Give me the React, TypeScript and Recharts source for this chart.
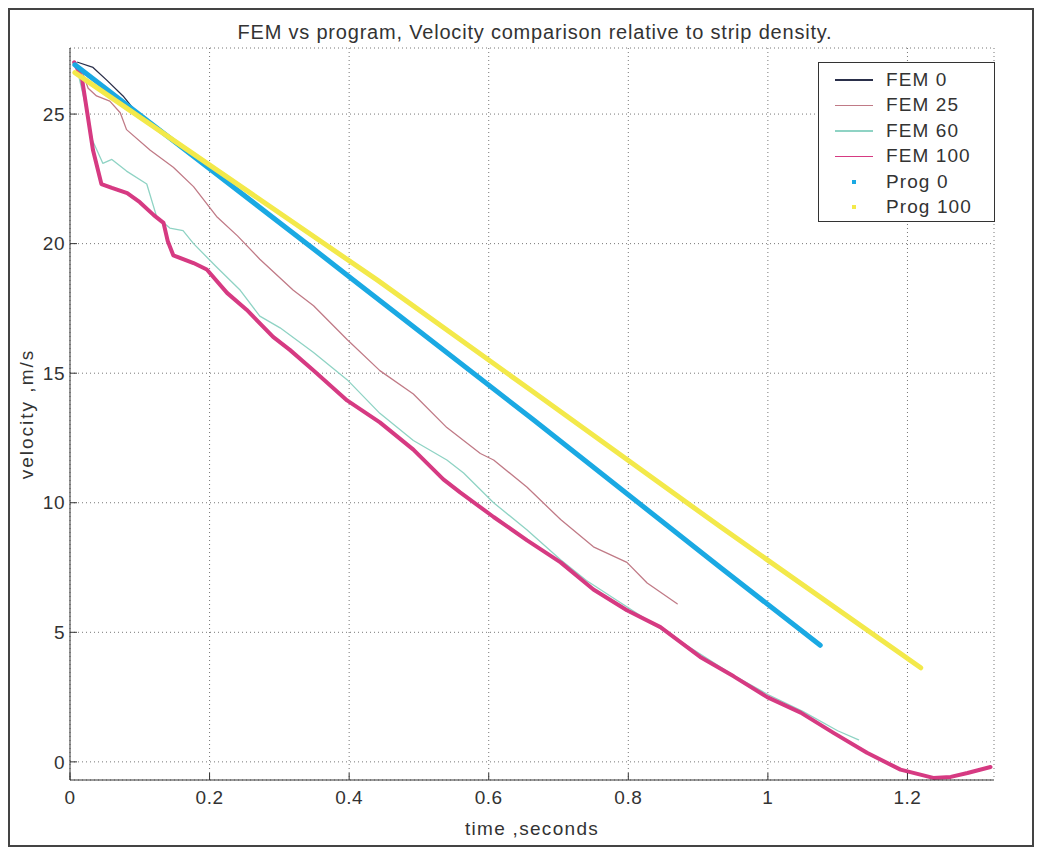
import React from 'react';
import { LineChart, Line, XAxis, YAxis, CartesianGrid, Label } from 'recharts';

// time (s) and velocity (m/s)
const fem0Time = [0.011, 0.033, 0.053, 0.076, 0.097];
const fem0Vel = [27.0, 26.8, 26.3, 25.7, 25.0];

const fem25Time = [0.008, 0.018, 0.026, 0.038, 0.057, 0.072, 0.081, 0.115, 0.148, 0.177, 0.21, 0.24, 0.272, 0.32, 0.349, 0.397, 0.444, 0.492, 0.54, 0.588, 0.607, 0.655, 0.703, 0.75, 0.798, 0.827, 0.87];
const fem25Vel = [27.0, 26.6, 26.0, 25.7, 25.5, 25.05, 24.4, 23.6, 22.95, 22.2, 21.05, 20.3, 19.4, 18.2, 17.6, 16.3, 15.1, 14.2, 12.9, 11.9, 11.65, 10.6, 9.35, 8.3, 7.7, 6.9, 6.1];

const fem60Time = [0.008, 0.02, 0.032, 0.047, 0.06, 0.081, 0.11, 0.124, 0.143, 0.162, 0.177, 0.21, 0.244, 0.272, 0.301, 0.349, 0.397, 0.444, 0.492, 0.54, 0.564, 0.607, 0.655, 0.703, 0.74, 0.8, 0.86, 0.95, 1.0, 1.05, 1.1, 1.13];
const fem60Vel = [27.0, 25.6, 24.0, 23.1, 23.25, 22.8, 22.3, 21.05, 20.6, 20.5, 20.0, 19.1, 18.2, 17.2, 16.75, 15.8, 14.75, 13.45, 12.4, 11.65, 11.15, 10.0, 8.95, 7.8, 7.0, 5.95, 4.9, 3.35, 2.6, 1.95, 1.2, 0.85];

const fem100Time = [0.006, 0.017, 0.033, 0.045, 0.06, 0.082, 0.1, 0.12, 0.134, 0.14, 0.148, 0.177, 0.196, 0.225, 0.253, 0.291, 0.315, 0.349, 0.397, 0.444, 0.492, 0.535, 0.559, 0.607, 0.655, 0.703, 0.75, 0.798, 0.846, 0.903, 0.951, 0.999, 1.047, 1.094, 1.142, 1.19, 1.237, 1.262, 1.286, 1.319];
const fem100Vel = [27.0, 26.4, 23.6, 22.3, 22.15, 21.95, 21.6, 21.1, 20.8, 20.1, 19.55, 19.25, 19.0, 18.1, 17.45, 16.4, 15.9, 15.1, 13.95, 13.1, 12.05, 10.9, 10.4, 9.45, 8.55, 7.7, 6.65, 5.85, 5.2, 4.05, 3.3, 2.5, 1.9, 1.12, 0.35, -0.3, -0.62, -0.58, -0.43, -0.2];

const prog0Time = [0.007, 0.344, 0.406, 0.664, 0.932, 1.075];
const prog0Vel = [26.9, 19.9, 18.6, 13.2, 7.5, 4.5];

const prog100Time = [0.007, 0.44, 0.66, 0.932, 1.219];
const prog100Vel = [26.6, 18.6, 14.35, 9.07, 3.63];

const xTicks = [0, 0.2, 0.4, 0.6, 0.8, 1, 1.2];
const yTicks = [0, 5, 10, 15, 20, 25];

const toPoints = (t: number[], v: number[]) => t.map((x, i) => ({ t: x, v: v[i] }));

const series = [
  { name: 'FEM 0', data: toPoints(fem0Time, fem0Vel), color: '#2a2f4a', width: 1.3 },
  { name: 'FEM 25', data: toPoints(fem25Time, fem25Vel), color: '#c07a86', width: 1.3 },
  { name: 'FEM 60', data: toPoints(fem60Time, fem60Vel), color: '#8fd3c4', width: 1.3 },
  { name: 'FEM 100', data: toPoints(fem100Time, fem100Vel), color: '#d63a82', width: 4 },
  { name: 'Prog 0', data: toPoints(prog0Time, prog0Vel), color: '#1aa9e3', width: 5 },
  { name: 'Prog 100', data: toPoints(prog100Time, prog100Vel), color: '#f3e94a', width: 5 },
];

const font = '"Liberation Sans", Arial, sans-serif';
const tickStyle = { fill: '#333', fontSize: 19, fontFamily: font, letterSpacing: 0.5 };

const LegendBox = () => (
  <div
    style={{
      position: 'absolute',
      left: 818,
      top: 62,
      width: 177,
      height: 160,
      boxSizing: 'border-box',
      border: '1.5px solid #333',
      background: '#fff',
      padding: '4px 0 0 16px',
      fontFamily: font,
      fontSize: 19,
      letterSpacing: 1.1,
      color: '#333',
    }}
  >
    {series.map((s) => (
      <div key={s.name} style={{ display: 'flex', alignItems: 'center', height: 25.5 }}>
        {s.name.startsWith('Prog') ? (
          <span style={{ width: 38, display: 'flex', justifyContent: 'center' }}>
            <span style={{ width: 4, height: 4, background: s.color, display: 'inline-block' }} />
          </span>
        ) : (
          <span style={{ width: 38, height: 1.5, background: s.color, display: 'inline-block' }} />
        )}
        <span style={{ marginLeft: 13 }}>{s.name}</span>
      </div>
    ))}
  </div>
);

export default function App() {
  return (
    <div style={{ position: 'absolute', left: 0, top: 0, width: 1039, height: 849, background: '#fff' }}>
      <div
        style={{
          position: 'absolute',
          left: 8,
          top: 8,
          width: 1022,
          height: 835,
          border: '2px solid #444',
        }}
      />
      <div
        style={{
          position: 'absolute',
          top: 21,
          left: 0,
          width: 1070,
          textAlign: 'center',
          fontFamily: font,
          fontSize: 20,
          letterSpacing: 0.8,
          color: '#333',
        }}
      >
        FEM vs program, Velocity comparison relative to strip density.
      </div>
      <LineChart
        width={1039}
        height={849}
        margin={{ top: 48, right: 45, bottom: 0, left: 0 }}
        style={{ position: 'absolute', left: 0, top: 0 }}
      >
        <CartesianGrid stroke="#777" strokeDasharray="1 3" />
        <XAxis
          dataKey="t"
          type="number"
          domain={[0, 1.324]}
          ticks={xTicks}
          allowDuplicatedCategory={false}
          height={69}
          tickSize={-7}
          tickMargin={18}
          stroke="#333"
          tick={tickStyle}
        >
          <Label value="time ,seconds" position="insideBottom" offset={14} style={{ fill: '#333', fontSize: 19, letterSpacing: 1.3, fontFamily: font }} />
        </XAxis>
        <YAxis
          dataKey="v"
          type="number"
          domain={[-0.7, 27.55]}
          ticks={yTicks}
          width={70}
          tickSize={-7}
          tickMargin={12}
          stroke="#333"
          tick={tickStyle}
        >
          <Label value="velocity ,m/s" angle={-90} position="insideLeft" offset={26} style={{ fill: '#333', fontSize: 19, letterSpacing: 2, fontFamily: font, textAnchor: 'middle' }} />
        </YAxis>
        <XAxis xAxisId="top" orientation="top" type="number" domain={[0, 1.324]} ticks={xTicks} height={0} tick={false} tickSize={-7} stroke="#333" />
        <YAxis yAxisId="right" orientation="right" type="number" domain={[-0.7, 27.55]} ticks={yTicks} width={0} tick={false} tickSize={-7} stroke="#333" />
        {series.map((s) => (
          <Line
            key={s.name}
            data={s.data}
            dataKey="v"
            name={s.name}
            type="linear"
            stroke={s.color}
            strokeWidth={s.width}
            dot={false}
            activeDot={false}
            isAnimationActive={false}
            strokeLinejoin="round"
            strokeLinecap="round"
          />
        ))}
      </LineChart>
      <LegendBox />
    </div>
  );
}
